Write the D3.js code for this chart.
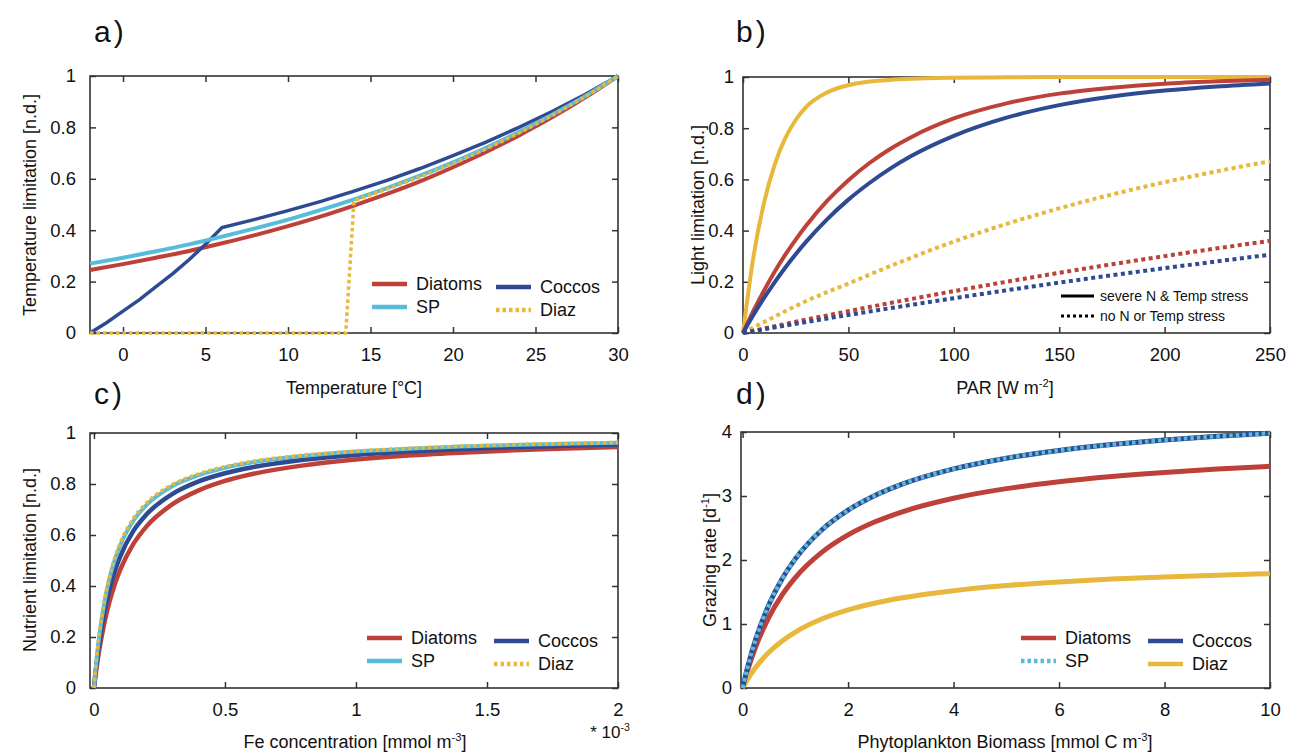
<!DOCTYPE html>
<html><head><meta charset="utf-8">
<script src="https://cdn.jsdelivr.net/npm/d3@7"></script>
<style>
body{margin:0;background:#fff;}
text{font-family:"Liberation Sans",Arial,Helvetica,sans-serif;fill:#111;}
</style></head>
<body>
<svg id="c" width="1306" height="756"></svg>
<script>
// ---------- DATA ----------
// Panel a: temperature limitation
const tempX      = [-2,0,2,4,6,8,10,12,14,16,18,20,22,24,26,28,30];
const tempDiatoms= [0.245,0.268,0.293,0.319,0.349,0.381,0.416,0.454,0.496,0.541,0.590,0.645,0.704,0.769,0.839,0.916,1];
const tempSP     = [0.270,0.293,0.318,0.345,0.375,0.407,0.441,0.479,0.520,0.564,0.612,0.664,0.721,0.782,0.849,0.921,1];
const tempCoccosX= [-2,-1,0,1,2,3,4,5,6,8,10,12,14,16,18,20,22,24,26,28,30];
const tempCoccos = [0,0.04,0.085,0.13,0.18,0.23,0.285,0.345,0.41,0.442,0.476,0.512,0.552,0.594,0.640,0.690,0.743,0.800,0.862,0.928,1];
const tempDiazX  = [-2,13.5,14,16,18,20,22,24,26,28,30];
const tempDiaz   = [0,0,0.515,0.560,0.607,0.659,0.716,0.778,0.846,0.919,1];
const tempTicks  = [0,5,10,15,20,25,30];

// Panel b: light limitation
const parX         = [0,5,10,15,20,25,30,40,50,60,70,80,100,125,150,175,200,225,250];
const lightDiazSev = [0,0.300,0.510,0.657,0.760,0.832,0.883,0.940,0.968,0.982,0.989,0.993,0.997,0.999,1,1,1,1,1];
const lightDiatSev = [0,0.087,0.166,0.239,0.305,0.365,0.420,0.517,0.597,0.664,0.720,0.766,0.838,0.897,0.935,0.958,0.974,0.983,0.989];
const lightCoccSev = [0,0.071,0.137,0.198,0.255,0.308,0.357,0.445,0.521,0.586,0.643,0.692,0.770,0.841,0.890,0.924,0.947,0.963,0.975];
const lightDiazNo  = [0,0.022,0.043,0.064,0.085,0.105,0.125,0.160,0.193,0.228,0.262,0.295,0.357,0.426,0.487,0.541,0.589,0.632,0.671];
const lightDiatNo  = [0,0.0089,0.0177,0.0264,0.035,0.0437,0.0522,0.0689,0.0854,0.1016,0.1175,0.1331,0.1635,0.2001,0.2350,0.2684,0.3003,0.3309,0.3601];
const lightCoccNo  = [0,0.0073,0.0145,0.0217,0.0288,0.0358,0.0428,0.0567,0.0704,0.0839,0.0971,0.1102,0.1358,0.1668,0.1967,0.2255,0.2532,0.2800,0.3058];
const parTicks     = [0,50,100,150,200,250];

// Panel c: nutrient limitation (Fe, *1e-3 mmol m-3)
const feX        = [0,0.01,0.02,0.04,0.06,0.08,0.1,0.15,0.2,0.3,0.4,0.5,0.6,0.8,1.0,1.2,1.4,1.6,1.8,2.0];
const nutDiatoms = [0,0.079,0.147,0.256,0.341,0.408,0.463,0.564,0.633,0.721,0.775,0.812,0.838,0.873,0.896,0.912,0.923,0.932,0.939,0.945];
const nutCoccos  = [0,0.096,0.175,0.299,0.390,0.460,0.515,0.615,0.680,0.761,0.810,0.842,0.865,0.895,0.914,0.927,0.937,0.945,0.950,0.955];
const nutSP      = [0,0.112,0.202,0.336,0.432,0.503,0.559,0.655,0.717,0.792,0.835,0.864,0.884,0.910,0.927,0.938,0.947,0.953,0.958,0.962];
const nutDiaz    = [0,0.116,0.208,0.345,0.441,0.513,0.568,0.664,0.725,0.798,0.840,0.868,0.888,0.913,0.929,0.940,0.948,0.955,0.959,0.963];
const feTicks    = [0,0.5,1,1.5,2];

// Panel d: grazing rate
const bioX       = [0,0.1,0.25,0.5,0.75,1,1.5,2,2.5,3,4,5,6,7,8,9,10];
const grzDiatoms = [0,0.287,0.645,1.107,1.455,1.725,2.119,2.392,2.593,2.746,2.965,3.115,3.223,3.305,3.369,3.420,3.463];
const grzCoccos  = [0,0.340,0.764,1.304,1.707,2.018,2.469,2.779,3.005,3.178,3.424,3.591,3.712,3.803,3.874,3.932,3.979];
const grzSP      = [0,0.340,0.764,1.304,1.707,2.018,2.469,2.779,3.005,3.178,3.424,3.591,3.712,3.803,3.874,3.932,3.979];
const grzDiaz    = [0,0.143,0.324,0.558,0.735,0.874,1.078,1.221,1.325,1.406,1.521,1.601,1.658,1.702,1.736,1.763,1.786];
const bioTicks   = [0,2,4,6,8,10];

// ---------- STYLE ----------
const RED="#BD4139", CYAN="#57BCDA", NAVY="#2D4A93", YEL="#E8B83D";
const svg = d3.select("#c");
const zip = (xs, ys) => xs.map((x,i)=>[x, ys[i]]);

function panel(o){
  const g = svg.append("g");
  const x = d3.scaleLinear().domain(o.xd).range([o.l, o.r]);
  const y = d3.scaleLinear().domain(o.yd).range([o.b, o.t]);
  const frame="#333";
  const ab = g.append("g").attr("transform",`translate(0,${o.b})`)
    .call(d3.axisBottom(x).tickValues(o.xt).tickSizeInner(-6).tickSizeOuter(0).tickPadding(15).tickFormat(d=>d));
  const at = g.append("g").attr("transform",`translate(0,${o.t})`)
    .call(d3.axisTop(x).tickValues(o.xt).tickSizeInner(-6).tickSizeOuter(0).tickFormat(""));
  const al = g.append("g").attr("transform",`translate(${o.l},0)`)
    .call(d3.axisLeft(y).tickValues(o.yt).tickSizeInner(-6).tickSizeOuter(0).tickPadding(o.yp||14).tickFormat(d=>d));
  const ar = g.append("g").attr("transform",`translate(${o.r},0)`)
    .call(d3.axisRight(y).tickValues(o.yt).tickSizeInner(-6).tickSizeOuter(0).tickFormat(""));
  [ab,at,al,ar].forEach(a=>{
    a.select(".domain").remove();
    a.selectAll("line").attr("stroke",frame).attr("stroke-width",1.5);
    a.selectAll("text").attr("font-size",18.5).attr("fill","#111")
      .style("font-family",'"Liberation Sans",Arial,sans-serif');
  });
  g.append("rect").attr("x",o.l).attr("y",o.t).attr("width",o.r-o.l).attr("height",o.b-o.t)
    .attr("fill","none").attr("stroke",frame).attr("stroke-width",1.6);
  o.series.forEach(s=>{
    const line = d3.line().x(d=>x(d[0])).y(d=>y(d[1]))
      .curve(s.lin ? d3.curveLinear : d3.curveMonotoneX);
    g.append("path").datum(s.d).attr("d",line).attr("fill","none")
      .attr("stroke",s.c).attr("stroke-width",s.w||4)
      .attr("stroke-dasharray",s.dash||null).attr("stroke-linecap","butt").attr("stroke-linejoin","miter");
  });
  return {g,x,y};
}

// Panel a
panel({l:90,r:618,t:76,b:333,xd:[-2,30],yd:[0,1],xt:tempTicks,yt:[0,0.2,0.4,0.6,0.8,1],
  series:[
    {d:zip(tempX,tempDiatoms),c:RED},
    {d:zip(tempCoccosX,tempCoccos),c:NAVY,w:3.5,lin:true},
    {d:zip(tempX,tempSP),c:CYAN},
    {d:zip(tempDiazX,tempDiaz),c:YEL,dash:"3.5,3",w:3.5,lin:true}
  ]});
// Panel b
panel({l:743,r:1270,t:77,b:333,xd:[0,250],yd:[0,1],xt:parTicks,yt:[0,0.2,0.4,0.6,0.8,1],yp:9,
  series:[
    {d:zip(parX,lightDiazNo),c:YEL,dash:"4,3.5"},
    {d:zip(parX,lightDiatNo),c:RED,dash:"4,3.5"},
    {d:zip(parX,lightCoccNo),c:NAVY,dash:"4,3.5"},
    {d:zip(parX,lightDiazSev),c:YEL},
    {d:zip(parX,lightDiatSev),c:RED},
    {d:zip(parX,lightCoccSev),c:NAVY}
  ]});
// Panel c
panel({l:90,r:618,t:433,b:688,xd:[-0.015,2],yd:[0,1],xt:feTicks,yt:[0,0.2,0.4,0.6,0.8,1],
  series:[
    {d:zip(feX,nutDiatoms),c:RED,w:4.5},
    {d:zip(feX,nutCoccos),c:NAVY,w:4.5},
    {d:zip(feX,nutSP),c:CYAN,w:4},
    {d:zip(feX,nutDiaz),c:YEL,dash:"3.5,3",w:3.5}
  ]});
// Panel d
panel({l:741,r:1270,t:432,b:688,xd:[-0.03,10],yd:[0,4],xt:bioTicks,yt:[0,1,2,3,4],yp:9,
  series:[
    {d:zip(bioX,grzDiatoms),c:RED,w:5},
    {d:zip(bioX,grzDiaz),c:YEL,w:5},
    {d:zip(bioX,grzCoccos),c:NAVY,w:5},
    {d:zip(bioX,grzSP),c:CYAN,dash:"3.5,3",w:4}
  ]});

// ---------- TEXT ----------
function txt(x,y,s,size,anchor,rot){
  const t = svg.append("text").attr("x",x).attr("y",y).attr("font-size",size)
    .attr("text-anchor",anchor||"start");
  if(rot) t.attr("transform",`rotate(-90,${x},${y})`);
  return t.text(s);
}
function sup(x,y,parts,size,anchor,rot){
  const t = svg.append("text").attr("x",x).attr("y",y).attr("font-size",size).attr("text-anchor",anchor||"middle");
  if(rot) t.attr("transform",`rotate(-90,${x},${y})`);
  parts.forEach(p=>{
    const ts=t.append("tspan").text(p[0]);
    if(p[1]) ts.attr("font-size",size*0.62).attr("dy",-7);
    else if(p[2]) ts.attr("dy",7);
  });
  return t;
}
[[94,42,"a)"],[736,42,"b)"],[94,404,"c)"],[736,404,"d)"]].forEach(p=>
  txt(p[0],p[1],p[2],30).attr("letter-spacing",3));

txt(354,394,"Temperature [°C]",18,"middle");
sup(1005,394,[["PAR [W m"],["-2",1],["]",0,1]],18,"middle");
sup(355,748,[["Fe concentration [mmol m"],["-3",1],["]",0,1]],18,"middle");
sup(1005,748,[["Phytoplankton Biomass [mmol C m"],["-3",1],["]",0,1]],18,"middle");
sup(610,738,[["* 10"],["-3",1]],17,"middle");

txt(36,205,"Temperature limitation [n.d.]",18,"middle",true);
txt(704,205,"Light limitation [n.d.]",18,"middle",true);
txt(36,560,"Nutrient limitation [n.d.]",18,"middle",true);
sup(716,560,[["Grazing rate [d"],["-1",1],["]",0,1]],18,"middle",true);

// ---------- LEGENDS ----------
function leg(x,y,c,label,dash,w){
  svg.append("line").attr("x1",x).attr("x2",x+35).attr("y1",y).attr("y2",y)
    .attr("stroke",c).attr("stroke-width",w||4.5).attr("stroke-dasharray",dash||null);
  txt(x+44,y+6,label,18);
}
leg(372,284,RED,"Diatoms"); leg(496,287,NAVY,"Coccos");
leg(372,307,CYAN,"SP"); leg(496,310,YEL,"Diaz","3.5,3");
leg(367,638,RED,"Diatoms"); leg(494,641,NAVY,"Coccos");
leg(367,661,CYAN,"SP"); leg(494,664,YEL,"Diaz","3.5,3");
leg(1021,638,RED,"Diatoms"); leg(1148,641,NAVY,"Coccos");
leg(1021,661,CYAN,"SP","3.5,3"); leg(1148,664,YEL,"Diaz");

svg.append("line").attr("x1",1061).attr("x2",1094).attr("y1",296).attr("y2",296).attr("stroke","#000").attr("stroke-width",3);
txt(1100,301,"severe N & Temp stress",14);
svg.append("line").attr("x1",1061).attr("x2",1094).attr("y1",316).attr("y2",316).attr("stroke","#000").attr("stroke-width",3).attr("stroke-dasharray","3,3");
txt(1100,321,"no N or Temp stress",14);
</script>
</body></html>
